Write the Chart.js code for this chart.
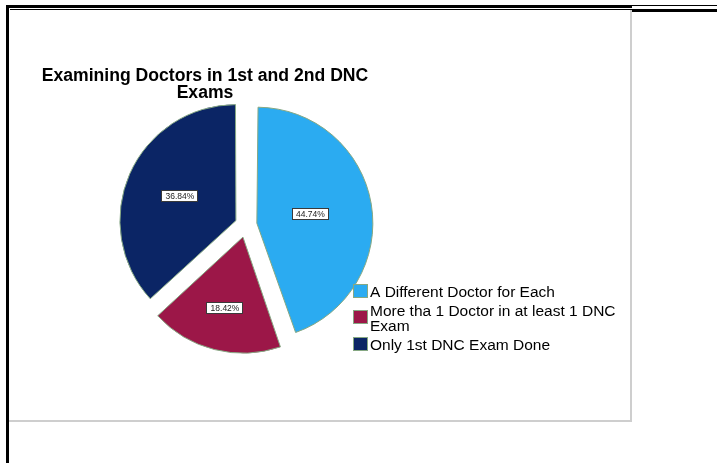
<!DOCTYPE html>
<html>
<head>
<meta charset="utf-8">
<title>Examining Doctors in 1st and 2nd DNC Exams</title>
<script src="https://cdn.jsdelivr.net/npm/chart.js@4"></script>
<style>
  html, body { margin: 0; padding: 0; background: #fff; }
  #wrap { position: relative; width: 717px; height: 463px; overflow: hidden; }
  .rule { position: absolute; background: #000; }
  #frame {
    position: absolute; left: 9px; top: 10px; width: 621px; height: 410px;
    border-right: 2px solid #cecece; border-bottom: 2px solid #cecece;
  }
  #myChart { position: absolute; left: 0; top: 0; }
</style>
</head>
<body>
<div id="wrap">
  <div class="rule" style="left:6px;top:5px;width:626px;height:3px"></div>
  <div class="rule" style="left:632px;top:5px;width:85px;height:1px"></div>
  <div class="rule" style="left:632px;top:9px;width:85px;height:3px"></div>
  <div class="rule" style="left:10px;top:9px;width:622px;height:1px"></div>
  <div class="rule" style="left:6px;top:5px;width:3px;height:458px"></div>
  <div id="frame"></div>
  <canvas id="myChart" width="717" height="463"></canvas>
</div>
<script>
const titleLines = ["Examining Doctors in 1st and 2nd DNC", "Exams"];
const categories = [
  "A Different Doctor for Each",
  "More tha 1 Doctor in at least 1 DNC Exam",
  "Only 1st DNC Exam Done",
];
const percentages = [44.74, 18.42, 36.84];
const sliceColors = ["#2babf1", "#9c1748", "#0b2565"];

const edgeColor = "#86a883";
const pieRadius = 116;

// slices are pulled out by offset / 4 pixels
function explode(ctx) {
  let gap = ctx.dataIndex === 1 ? 12.5 : 11;
  return gap * 4;
}

function wrapText(ctx, text, maxWidth) {
  let words = text.split(" ");
  let lines = [];
  let line = "";
  for (const word of words) {
    let test = line ? line + " " + word : word;
    if (line && ctx.measureText(test).width > maxWidth) {
      lines.push(line);
      line = word;
    } else {
      line = test;
    }
  }
  if (line) lines.push(line);
  return lines;
}

// an offset arc is also drawn with a bigger radius; shrink it back so
// every exploded slice keeps the same size
const evenRadius = {
  id: "evenRadius",
  beforeDatasetsDraw(chart) {
    chart.getDatasetMeta(0).data.forEach((arc) => {
      let shift = arc.options.offset / 4;
      let fix = 1 - Math.sin(Math.min(Math.PI, arc.circumference));
      arc.outerRadius = pieRadius - shift * fix;
    });
  },
};

// percentage boxes at the centroid of every slice
const sliceLabels = {
  id: "sliceLabels",
  afterDatasetsDraw(chart) {
    let c = chart.ctx;
    let meta = chart.getDatasetMeta(0);
    c.save();
    c.font = '8.5px "Liberation Sans", Arial, sans-serif';
    c.textAlign = "center";
    c.textBaseline = "middle";
    meta.data.forEach((arc, i) => {
      let p = arc.getProps(["x", "y", "startAngle", "endAngle"], true);
      let half = (p.endAngle - p.startAngle) / 2;
      let mid = p.startAngle + half;
      let dist = (2 * pieRadius * Math.sin(half)) / (3 * half) + arc.options.offset / 4;
      let lx = p.x + Math.cos(mid) * dist;
      let ly = p.y + Math.sin(mid) * dist;
      let text = percentages[i].toFixed(2) + "%";
      let w = Math.round(c.measureText(text).width + 8);
      let h = 12;
      let bx = Math.round(lx - w / 2);
      let by = Math.round(ly - h / 2);
      c.fillStyle = "#fff";
      c.fillRect(bx, by, w, h);
      c.strokeStyle = "#3a3a3a";
      c.lineWidth = 1;
      c.strokeRect(bx + 0.5, by + 0.5, w - 1, h - 1);
      c.fillStyle = "#222";
      c.fillText(text, lx, ly + 0.5);
    });
    c.restore();
  },
};

// title above the pie and the key that sits over its right side
const titleAndKey = {
  id: "titleAndKey",
  afterDraw(chart) {
    let c = chart.ctx;
    c.save();
    c.fillStyle = "#000";
    c.textAlign = "center";
    c.textBaseline = "alphabetic";
    c.font = 'bold 17.6px "Liberation Sans", Arial, sans-serif';
    titleLines.forEach((t, i) => c.fillText(t, 205, 81 + i * 17));

    c.font = '15.5px "Liberation Sans", Arial, sans-serif';
    c.textAlign = "left";
    let top = 285;
    categories.forEach((name, i) => {
      let lines = wrapText(c, name, 250);
      let blockH = lines.length * 15;
      let sy = Math.round(top + (blockH - 14) / 2 - 2);
      c.fillStyle = sliceColors[i];
      c.fillRect(353, sy, 15, 14);
      c.strokeStyle = edgeColor;
      c.lineWidth = 1;
      c.strokeRect(353.5, sy + 0.5, 14, 13);
      c.fillStyle = "#000";
      lines.forEach((l, j) => c.fillText(l, 370, top + 12 + j * 15));
      top += blockH + 4;
    });
    c.restore();
  },
};

let ctx = document.getElementById("myChart").getContext("2d");
let myChart = new Chart(ctx, {
  type: "pie",
  data: {
    labels: categories,
    datasets: [
      {
        data: percentages,
        backgroundColor: sliceColors,
        borderColor: edgeColor,
        borderWidth: 1,
        offset: explode,
      },
    ],
  },
  options: {
    responsive: false,
    animation: false,
    devicePixelRatio: 1,
    radius: pieRadius,
    layout: { padding: { left: 0, right: 225, top: 0, bottom: 13 } },
    plugins: {
      legend: { display: false },
      tooltip: { enabled: false },
    },
  },
  plugins: [evenRadius, sliceLabels, titleAndKey],
});
</script>
</body>
</html>
